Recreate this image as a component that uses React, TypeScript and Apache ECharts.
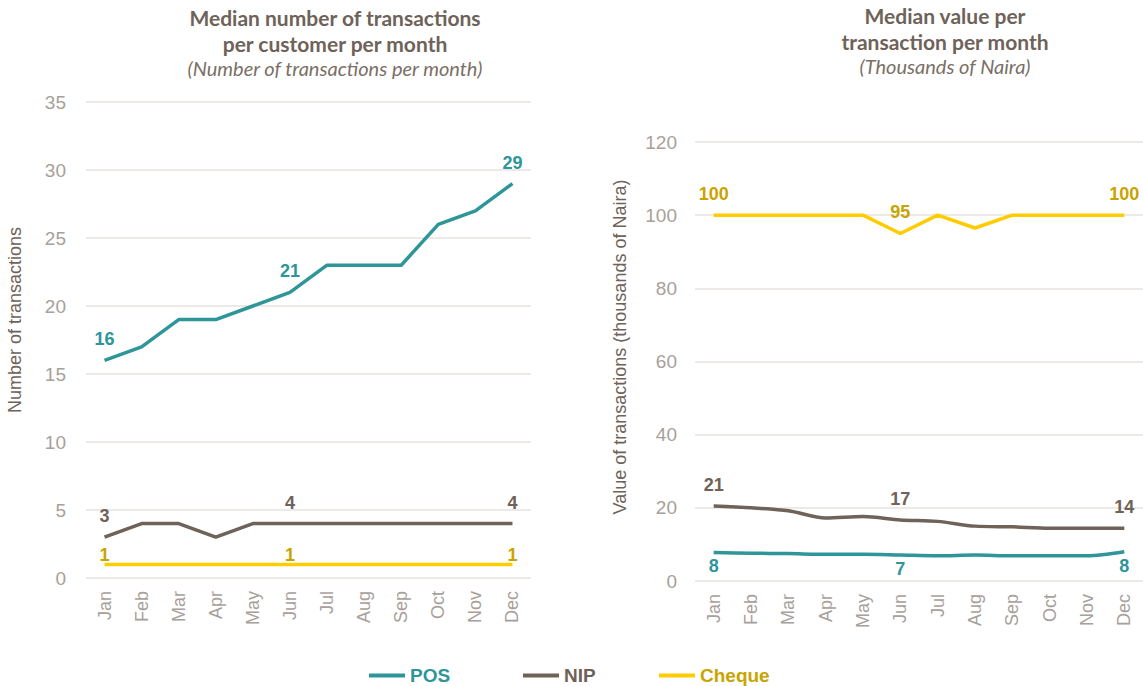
import React, { useEffect, useRef } from "react";
import * as echarts from "echarts";

const months = ["Jan", "Feb", "Mar", "Apr", "May", "Jun", "Jul", "Aug", "Sep", "Oct", "Nov", "Dec"];

// Left chart: median number of transactions per customer per month
const posCount = [16, 17, 19, 19, 20, 21, 23, 23, 23, 26, 27, 29];
const nipCount = [3, 4, 4, 3, 4, 4, 4, 4, 4, 4, 4, 4];
const chequeCount = [1, 1, 1, 1, 1, 1, 1, 1, 1, 1, 1, 1];

// Right chart: median value per transaction per month (thousands of Naira)
const posValue = [7.8, 7.6, 7.5, 7.3, 7.3, 7.1, 6.9, 7.1, 6.9, 6.9, 6.9, 8.0];
const nipValue = [20.5, 20.0, 19.2, 17.2, 17.6, 16.7, 16.3, 15.0, 14.8, 14.4, 14.4, 14.4];
const chequeValue = [100, 100, 100, 100, 100, 95, 100, 96.5, 100, 100, 100, 100];

const leftTicks = [0, 5, 10, 15, 20, 25, 30, 35];
const rightTicks = [0, 20, 40, 60, 80, 100, 120];

const labelIdx = [0, 5, 11];

const C_POS = "#2E9599";
const C_NIP = "#6E6259";
const C_CHQ = "#FFCC00";
const C_CHQ_TXT = "#C9A400";
const C_TICK = "#A8A09A";
const C_GRID = "#E6E2DE";
const ARIAL = "Liberation Sans, Arial, sans-serif";

export default function App() {
  const ref = useRef<HTMLDivElement>(null);
  useEffect(() => {
    if (!ref.current) return;
    const chart = echarts.init(ref.current, undefined, { renderer: "svg" });

    const mkSeries = (
      name: string,
      data: number[],
      color: string,
      txtColor: string,
      idx: number,
      pos: string,
      smooth: boolean | number,
      dist: number
    ) => ({
      name,
      type: "line",
      xAxisIndex: idx,
      yAxisIndex: idx,
      data,
      symbol: "circle",
      symbolSize: 0,
      showSymbol: true,
      smooth,
      lineStyle: { color, width: 3.5 },
      itemStyle: { color },
      labelLayout: { hideOverlap: false },
      label: {
        show: true,
        position: pos,
        distance: dist,
        color: txtColor,
        fontFamily: ARIAL,
        fontWeight: "bold",
        fontSize: 18,
        formatter: (p: any) => (labelIdx.includes(p.dataIndex) ? String(Math.round(p.value)) : ""),
      },
    });

    const xAxisBase = (gridIndex: number) => ({
      type: "category",
      gridIndex,
      data: months,
      boundaryGap: true,
      axisLine: { show: false },
      axisTick: { show: false },
      axisLabel: {
        rotate: 90,
        color: C_TICK,
        fontSize: 18,
        fontFamily: ARIAL,
        margin: 13,
      },
    });

    const yAxisBase = (gridIndex: number, ticks: number[], margin: number) => ({
      type: "value",
      gridIndex,
      min: ticks[0],
      max: ticks[ticks.length - 1],
      interval: ticks[1] - ticks[0],
      axisLine: { show: false },
      axisTick: { show: false },
      axisLabel: { color: C_TICK, fontSize: 19, fontFamily: ARIAL, margin },
      splitLine: { lineStyle: { color: C_GRID, width: 1.5 } },
    });

    const titleStyle = {
      color: C_NIP,
      fontSize: 21,
      fontWeight: "bold",
      fontFamily: "Lato, Open Sans, sans-serif",
      lineHeight: 26,
    };
    const subStyle = {
      color: "#7A6F66",
      fontSize: 20,
      fontStyle: "italic",
      fontFamily: "Lato, Open Sans, sans-serif",
    };

    const legendOne = (name: string, left: number, color: string) => ({
      left,
      top: 661,
      itemWidth: 36,
      itemHeight: 4,
      icon: "rect",
      textStyle: { fontSize: 19, fontWeight: "bold", fontFamily: ARIAL, color },
      data: [name],
    });

    chart.setOption({
      animation: false,
      title: [
        {
          text: "Median number of transactions\nper customer per month",
          subtext: "(Number of transactions per month)",
          left: 330,
          textAlign: "center",
          top: -1,
          itemGap: 2,
          textStyle: titleStyle,
          subtextStyle: subStyle,
        },
        {
          text: "Median value per\ntransaction per month",
          subtext: "(Thousands of Naira)",
          left: 940,
          textAlign: "center",
          top: -3,
          itemGap: 2,
          textStyle: titleStyle,
          subtextStyle: subStyle,
        },
      ],
      legend: [
        legendOne("POS", 364, C_POS),
        legendOne("NIP", 518, C_NIP),
        legendOne("Cheque", 654, C_CHQ_TXT),
      ],
      graphic: [
        {
          type: "text",
          x: 15,
          y: 320,
          rotation: Math.PI / 2,
          style: {
            text: "Number of transactions",
            fill: C_NIP,
            font: "18px Liberation Sans, Arial, sans-serif",
            textAlign: "center",
            textVerticalAlign: "middle",
          },
        },
        {
          type: "text",
          x: 620,
          y: 347,
          rotation: Math.PI / 2,
          style: {
            text: "Value of transactions (thousands of Naira)",
            fill: C_NIP,
            font: "18px Liberation Sans, Arial, sans-serif",
            textAlign: "center",
            textVerticalAlign: "middle",
          },
        },
      ],
      grid: [
        { left: 86, top: 102, width: 445, height: 476 },
        { left: 695, top: 142, width: 449, height: 439 },
      ],
      xAxis: [xAxisBase(0), xAxisBase(1)],
      yAxis: [yAxisBase(0, leftTicks, 20), yAxisBase(1, rightTicks, 18)],
      series: [
        mkSeries("POS", posCount, C_POS, C_POS, 0, "top", false, 12),
        mkSeries("NIP", nipCount, C_NIP, C_NIP, 0, "top", false, 12),
        mkSeries("Cheque", chequeCount, C_CHQ, C_CHQ_TXT, 0, "top", false, 0),
        mkSeries("POS", posValue, C_POS, C_POS, 1, "bottom", 0.3, 5),
        mkSeries("NIP", nipValue, C_NIP, C_NIP, 1, "top", 0.3, 12),
        mkSeries("Cheque", chequeValue, C_CHQ, C_CHQ_TXT, 1, "top", false, 12),
      ],
    });
    return () => chart.dispose();
  }, []);
  return (
    <div
      ref={ref}
      style={{ position: "absolute", left: 0, top: 0, width: 1143, height: 686, background: "#fff" }}
    />
  );
}
